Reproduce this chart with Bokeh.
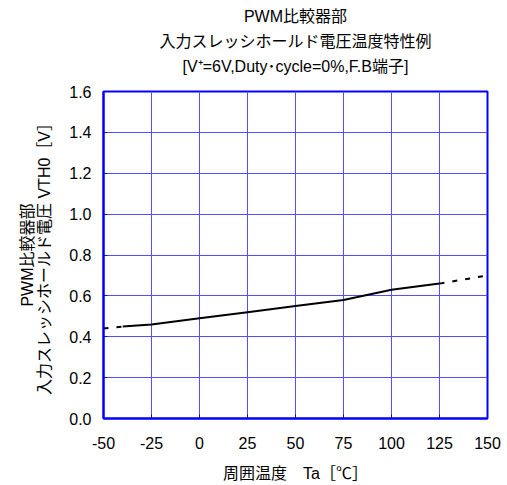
from bokeh.plotting import figure
from bokeh.models import FixedTicker, PrintfTickFormatter, Range1d, Title, LinearAxis
from bokeh.embed import file_html
from bokeh.resources import INLINE

# ---- data ----
temp_solid = [-40, -25, 0, 25, 50, 75, 100, 125]
vth_solid = [0.45, 0.46, 0.49, 0.52, 0.55, 0.58, 0.63, 0.66]
temp_dash_low = [-50, -40]
vth_dash_low = [0.44, 0.45]
temp_dash_high = [125, 150]
vth_dash_high = [0.66, 0.70]

x_ticks = [-50, -25, 0, 25, 50, 75, 100, 125, 150]
y_ticks = [0.0, 0.2, 0.4, 0.6, 0.8, 1.0, 1.2, 1.4, 1.6]

title_lines = ["PWM比較器部", "入力スレッシホールド電圧温度特性例", "[V⁺=6V,Duty･cycle=0%,F.B端子]"]
x_label = "周囲温度　Ta［℃］"
y_label_1 = "PWM比較器部"
y_label_2 = "入力スレッシホールド電圧 VTH0［V］"

FONT = "'Liberation Sans', 'Noto Sans CJK JP'"
BLUE = "#0000FF"
GRID = "#5050FF"

p = figure(width=507, height=485, output_backend="svg", toolbar_location=None,
           x_range=Range1d(-50, 150), y_range=Range1d(0, 1.6),
           min_border_left=103, min_border_right=20, min_border_top=0, min_border_bottom=67)
p.title = None

p.background_fill_color = "white"
p.border_fill_color = "white"
p.outline_line_color = BLUE
p.outline_line_width = 2

# small spacer between the plot frame and the title block
p.add_layout(Title(text=" ", standoff=9, text_font_size="1px"), "above")
# title: three centred lines; first added sits closest to the plot
for line, so in ((title_lines[2], 9), (title_lines[1], 3), (title_lines[0], 10)):
    p.add_layout(Title(text=line, standoff=so, align="center", offset=3,
                       text_font=FONT, text_font_size="16px", text_font_style="normal",
                       text_color="black"), "above")

for ax in (p.xaxis[0], p.yaxis[0]):
    ax.axis_line_color = BLUE
    ax.axis_line_width = 2
    ax.major_tick_line_color = BLUE
    ax.major_tick_in = 4
    ax.major_tick_out = 0
    ax.minor_tick_line_color = None
    ax.major_label_text_font = FONT
    ax.major_label_text_font_size = "16px"
    ax.major_label_text_color = "black"
    ax.axis_label_text_font = FONT
    ax.axis_label_text_font_size = "16px"
    ax.axis_label_text_font_style = "normal"
    ax.axis_label_text_color = "black"

p.xaxis[0].ticker = FixedTicker(ticks=x_ticks)
p.xaxis[0].formatter = PrintfTickFormatter(format="%d")
p.yaxis[0].ticker = FixedTicker(ticks=y_ticks)
p.yaxis[0].formatter = PrintfTickFormatter(format="%.1f")
p.xaxis[0].major_label_standoff = 18
p.yaxis[0].major_label_standoff = 12
p.xaxis[0].axis_label = x_label
p.xaxis[0].axis_label_standoff = 13
p.yaxis[0].axis_label = y_label_2
p.yaxis[0].axis_label_standoff = 13

# outer y label line (separate label-only axis further left)
extra = LinearAxis(ticker=FixedTicker(ticks=[]), axis_line_color=None,
                   major_tick_line_color=None, minor_tick_line_color=None,
                   major_label_text_font_size="0px", major_label_standoff=0,
                   axis_label=y_label_1, axis_label_standoff=-2, axis_label_text_font=FONT,
                   axis_label_text_font_size="16px", axis_label_text_font_style="normal",
                   axis_label_text_color="black")
p.add_layout(extra, "left")

p.xgrid.ticker = FixedTicker(ticks=x_ticks)
p.ygrid.ticker = FixedTicker(ticks=y_ticks)
for g in (p.xgrid[0], p.ygrid[0]):
    g.grid_line_color = GRID
    g.grid_line_width = 1

p.line(temp_solid, vth_solid, line_color="black", line_width=2)
p.line(temp_dash_low, vth_dash_low, line_color="black", line_width=2, line_dash="5 8")
p.line(temp_dash_high, vth_dash_high, line_color="black", line_width=2, line_dash="5 8")

open("out.html", "w").write(file_html(p, INLINE))
